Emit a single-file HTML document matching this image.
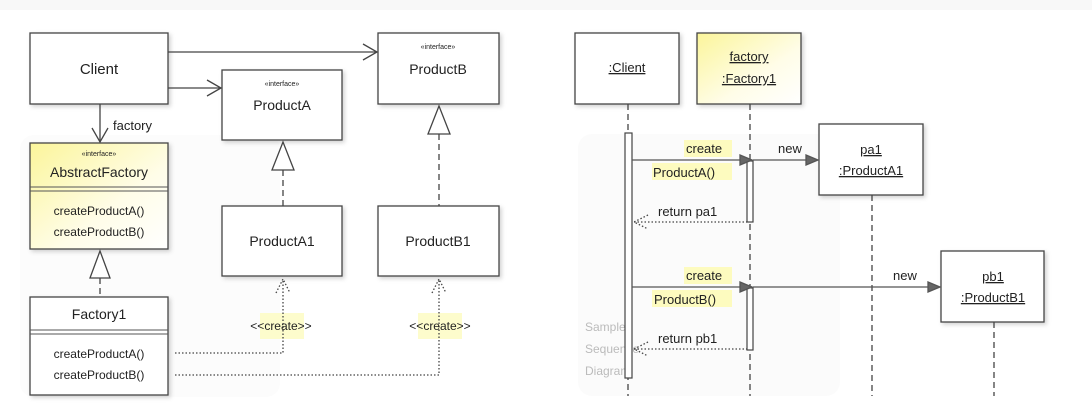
<!DOCTYPE html>
<html><head><meta charset="utf-8"><style>
html,body{margin:0;padding:0;background:#fff;}
svg{display:block;font-family:"Liberation Sans",sans-serif;}
</style></head><body>
<svg width="1092" height="414" viewBox="0 0 1092 414" xmlns="http://www.w3.org/2000/svg">
<defs>
<linearGradient id="yg" x1="0" y1="0" x2="1" y2="1">
<stop offset="0" stop-color="#fbf59a"/><stop offset="0.6" stop-color="#fffde8"/><stop offset="1" stop-color="#ffffff"/>
</linearGradient>
<filter id="sh" x="-10%" y="-10%" width="130%" height="130%"><feDropShadow dx="2" dy="2" stdDeviation="2" flood-color="#000" flood-opacity="0.18"/></filter>
</defs>
<rect x="0" y="0" width="1092" height="10" fill="#f8f8f8"/>
<rect x="20" y="135" width="260" height="262" rx="14" fill="#fcfcfc"/>
<rect x="578" y="134" width="262" height="262" rx="14" fill="#fbfbfb"/>
<g stroke="#444" stroke-width="1.3" fill="#fff">
<rect x="30" y="33" width="138" height="71" filter="url(#sh)"/>
<rect x="378" y="33" width="121" height="71" filter="url(#sh)"/>
<rect x="222" y="70" width="120" height="70" filter="url(#sh)"/>
<rect x="30" y="143" width="138" height="106" fill="url(#yg)" filter="url(#sh)"/>
<rect x="30" y="297" width="138" height="98" filter="url(#sh)"/>
<rect x="222" y="206" width="120" height="70" filter="url(#sh)"/>
<rect x="378" y="206" width="121" height="70" filter="url(#sh)"/>
<rect x="575" y="33" width="104" height="71" filter="url(#sh)"/>
<rect x="697" y="33" width="104" height="71" fill="url(#yg)" filter="url(#sh)"/>
<rect x="819" y="124" width="104" height="71" filter="url(#sh)"/>
<rect x="941" y="251" width="103" height="71" filter="url(#sh)"/>
</g>
<g stroke="#555" stroke-width="1" fill="none">
<line x1="30" y1="187" x2="168" y2="187"/><line x1="30" y1="191" x2="168" y2="191"/>
<line x1="30" y1="330" x2="168" y2="330"/><line x1="30" y1="334" x2="168" y2="334"/>
</g>
<g stroke="#444" stroke-width="1.3" fill="none">
<line x1="168" y1="52" x2="377" y2="52"/><polyline points="363,44 377,52 363,60"/>
<line x1="168" y1="88" x2="221" y2="88"/><polyline points="207,80 221,88 207,96"/>
<line x1="100" y1="104" x2="100" y2="142"/><polyline points="92,128 100,142 108,128"/>
</g>
<g stroke="#444" stroke-width="1.3">
<polygon points="100,251 90,278 110,278" fill="#fff"/>
<line x1="100" y1="278" x2="100" y2="297" stroke-dasharray="6,4"/>
<polygon points="283,142 272,170 294,170" fill="#fff"/>
<line x1="283" y1="170" x2="283" y2="206" stroke-dasharray="6,4"/>
<polygon points="439,106 428,134 450,134" fill="#fff"/>
<line x1="439" y1="134" x2="439" y2="206" stroke-dasharray="6,4"/>
</g>
<rect x="260" y="313" width="44" height="26" fill="#fdfbbf" opacity="0.8"/>
<rect x="418" y="313" width="44" height="26" fill="#fdfbbf" opacity="0.8"/>
<g stroke="#444" stroke-width="1.3" fill="none" stroke-dasharray="1.5,2">
<polyline points="175,353 283,353 283,279"/><polyline points="276,293 283,279 290,293"/>
<polyline points="175,375 439,375 439,279"/><polyline points="432,293 439,279 446,293"/>
</g>
<g fill="#222" font-size="15" text-anchor="middle">
<text x="99" y="74">Client</text>
<text x="438" y="74" font-size="14">ProductB</text>
<text x="282" y="110" font-size="14">ProductA</text>
<text x="99" y="177" font-size="14">AbstractFactory</text>
<text x="99" y="319" font-size="14">Factory1</text>
<text x="282" y="246" font-size="14">ProductA1</text>
<text x="438" y="246" font-size="14">ProductB1</text>
<text x="438" y="49" font-size="7">«interface»</text>
<text x="282" y="86" font-size="7">«interface»</text>
<text x="99" y="156" font-size="7">«interface»</text>
<text x="99" y="215" font-size="12">createProductA()</text>
<text x="99" y="236" font-size="12">createProductB()</text>
<text x="99" y="358" font-size="12">createProductA()</text>
<text x="99" y="379" font-size="12">createProductB()</text>
<text x="281" y="330" font-size="12">&lt;&lt;create&gt;&gt;</text>
<text x="440" y="330" font-size="12">&lt;&lt;create&gt;&gt;</text>
<text x="113" y="130" font-size="13" text-anchor="start">factory</text>
</g>
<g fill="#bbb" font-size="12"><text x="585" y="331">Sample</text><text x="585" y="353">Sequence</text><text x="585" y="375">Diagram</text></g>
<g stroke="#444" stroke-width="1.3" stroke-dasharray="6,4">
<line x1="628" y1="104" x2="628" y2="396"/>
<line x1="750" y1="104" x2="750" y2="396"/>
<line x1="872" y1="195" x2="872" y2="396"/>
<line x1="994" y1="322" x2="994" y2="396"/>
</g>
<g stroke="#444" stroke-width="1.2" fill="#fff">
<rect x="625" y="133" width="7" height="245"/>
<rect x="747" y="161" width="6" height="61"/>
<rect x="747" y="288" width="6" height="62"/>
</g>
<rect x="684" y="140" width="48" height="17" fill="#fdfbbf"/>
<rect x="652" y="163" width="80" height="17" fill="#fdfbbf"/>
<rect x="684" y="267" width="48" height="17" fill="#fdfbbf"/>
<rect x="652" y="290" width="80" height="17" fill="#fdfbbf"/>
<g stroke="#555" stroke-width="1.3">
<line x1="632" y1="160" x2="740" y2="160"/><polygon points="740,155 752,160 740,165" fill="#666"/>
<line x1="753" y1="160" x2="808" y2="160"/><polygon points="806,155 818,160 806,165" fill="#666"/>
<line x1="632" y1="287" x2="740" y2="287"/><polygon points="740,282 752,287 740,292" fill="#666"/>
<line x1="753" y1="287" x2="930" y2="287"/><polygon points="928,282 940,287 928,292" fill="#666"/>
</g>
<g stroke="#444" stroke-width="1.3" fill="none" stroke-dasharray="1.5,2">
<line x1="634" y1="222" x2="747" y2="222"/><polyline points="648,215 634,222 648,229"/>
<line x1="634" y1="349" x2="747" y2="349"/><polyline points="648,342 634,349 648,356"/>
</g>
<g fill="#222" font-size="13">
<text x="686" y="153">create</text><text x="653" y="177">ProductA()</text>
<text x="778" y="153">new</text>
<text x="658" y="216">return pa1</text>
<text x="686" y="280">create</text><text x="654" y="304">ProductB()</text>
<text x="893" y="280">new</text>
<text x="658" y="343">return pb1</text>
</g>
<g fill="#222" font-size="13" text-anchor="middle" text-decoration="underline">
<text x="627" y="72">:Client</text>
<text x="749" y="61">factory</text>
<text x="749" y="83">:Factory1</text>
<text x="871" y="154">pa1</text>
<text x="871" y="175">:ProductA1</text>
<text x="993" y="281">pb1</text>
<text x="993" y="302">:ProductB1</text>
</g>
</svg>
</body></html>
